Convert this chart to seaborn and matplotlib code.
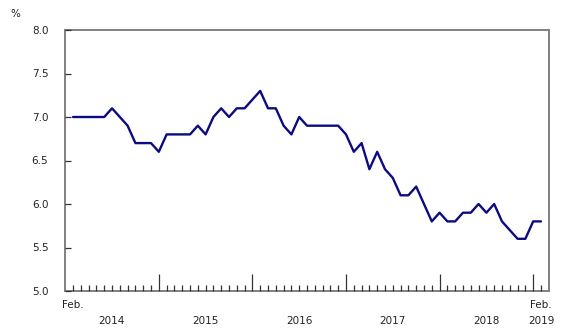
import matplotlib
matplotlib.use("Agg")
import matplotlib.pyplot as plt
import matplotlib.transforms as mtransforms
import seaborn as sns
import pandas as pd
import numpy as np

# Monthly values, Feb 2014 .. Feb 2019 (%)
values = [7.0, 7.0, 7.0, 7.0, 7.0, 7.1, 7.0, 6.9, 6.7, 6.7, 6.7,
          6.6, 6.8, 6.8, 6.8, 6.8, 6.9, 6.8, 7.0, 7.1, 7.0, 7.1, 7.1,
          7.2, 7.3, 7.1, 7.1, 6.9, 6.8, 7.0, 6.9, 6.9, 6.9, 6.9, 6.9,
          6.8, 6.6, 6.7, 6.4, 6.6, 6.4, 6.3, 6.1, 6.1, 6.2, 6.0, 5.8,
          5.9, 5.8, 5.8, 5.9, 5.9, 6.0, 5.9, 6.0, 5.8, 5.7, 5.6, 5.6,
          5.8, 5.8]
dates = pd.date_range("2014-02-01", periods=len(values), freq="MS")
years = ["2014", "2015", "2016", "2017", "2018", "2019"]
y_ticks = [5.0, 5.5, 6.0, 6.5, 7.0, 7.5, 8.0]
unit_label = "%"
edge_label = "Feb."

df = pd.DataFrame({"idx": np.arange(len(values)), "value": values, "month": dates.month})

sns.set_style("white")
plt.rcParams["font.family"] = ["DejaVu Sans"]

fig = plt.figure(figsize=(5.8, 3.35), dpi=100)
ax = fig.add_axes([65/580, 1-291/335, (549-65)/580, (291-30)/335])

sns.lineplot(data=df, x="idx", y="value", ax=ax, color="#0c0c80", linewidth=1.7)

ax.set_xlim(-1.03, len(values) - 1 + 1.03)
ax.set_ylim(5.0, 8.0)
ax.set_yticks(y_ticks)
ax.set_yticklabels([f"{t:.1f}" for t in y_ticks], fontsize=7.5, color="#222222")
ax.set_xlabel("")
ax.set_ylabel("")

jan_idx = df.loc[df["month"] == 1, "idx"].tolist()
other_idx = df.loc[df["month"] != 1, "idx"].tolist()
ax.set_xticks(jan_idx)
ax.set_xticklabels([])
ax.set_xticks(other_idx, minor=True)
ax.tick_params(axis="x", which="major", bottom=True, direction="in", length=12, width=0.9, color="#333333")
ax.tick_params(axis="x", which="minor", bottom=True, direction="in", length=4, width=0.9, color="#333333")
ax.tick_params(axis="y", which="major", left=True, direction="in", length=4, width=0.9, color="#333333", pad=12)

for s in ax.spines.values():
    s.set_visible(True)
    s.set_color("#808080")
    s.set_linewidth(1.4)
    s.set_zorder(0.5)

trans = mtransforms.blended_transform_factory(ax.transData, ax.transAxes)
# year labels centered between year boundaries
bounds = [ax.get_xlim()[0]] + list(jan_idx) + [len(values) - 1]
for i, yr in enumerate(years):
    if i < len(years) - 1:
        xc = (bounds[i] + bounds[i + 1]) / 2
    else:
        xc = len(values) - 1
    ax.text(xc, -0.115, yr, transform=trans, ha="center", va="center", fontsize=7.5, color="#222222")
ax.text(0, -0.055, edge_label, transform=trans, ha="center", va="center", fontsize=7.5, color="#222222")
ax.text(len(values) - 1, -0.055, edge_label, transform=trans, ha="center", va="center", fontsize=7.5, color="#222222")

fig.text(15/580, 1-14/335, unit_label, ha="center", va="center", fontsize=7.5, color="#222222")

fig.savefig("out.png", dpi=100)
